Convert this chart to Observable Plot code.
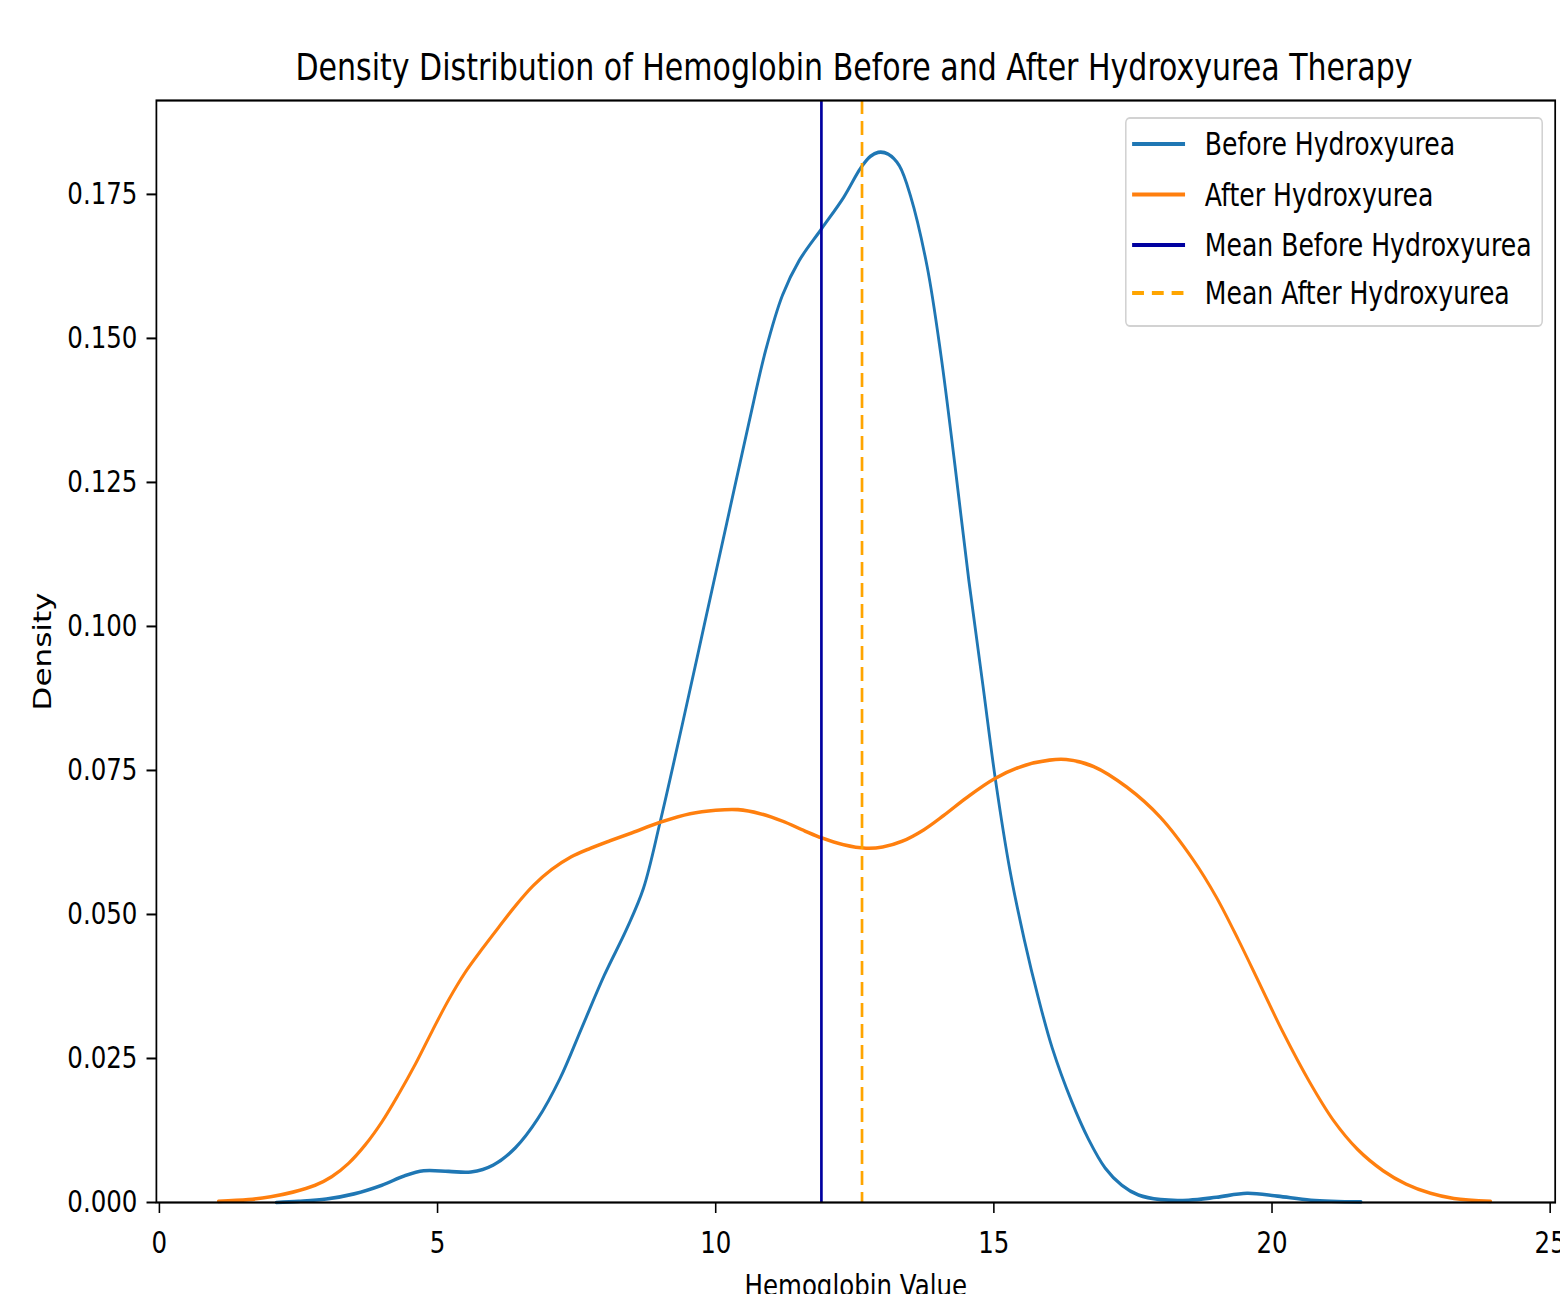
<!DOCTYPE html>
<html>
<head>
<meta charset="utf-8">
<script src="https://cdn.jsdelivr.net/npm/d3@7"></script>
<script src="https://cdn.jsdelivr.net/npm/@observablehq/plot@0.6"></script>
<style>
  html, body { margin: 0; padding: 0; background: #fff; overflow: hidden; width: 1560px; height: 1294px; }
  #wrap { position: relative; width: 1560px; height: 1294px; overflow: hidden; background: #fff; }
  #title { position: absolute; left: 854px; top: 48px; transform: translateX(-50%) scaleX(0.79);
           white-space: nowrap; font-family: "DejaVu Sans"; font-size: 38px; line-height: 38px; color: #000; }
  #chart { position: absolute; left: 0; top: 90px; }
  #legend { position: absolute; left: 1125px; top: 117px; }
</style>
</head>
<body>
<div id="wrap">
  <div id="title">Density Distribution of Hemoglobin Before and After Hydroxyurea Therapy</div>
  <div id="chart"></div>
  <div id="legend"></div>
</div>
<script>
// ---- data ----
const beforeX = [2.1, 2.5, 3.0, 3.5, 4.0, 4.4, 4.75, 5.2, 5.6, 6.0, 6.4, 6.8, 7.2, 7.6, 8.0, 8.4, 8.7, 9.0, 9.4, 9.8, 10.2, 10.6, 10.9, 11.2, 11.5, 11.9, 12.3, 12.6, 12.78, 12.92, 13.1, 13.3, 13.5, 13.8, 14.05, 14.3, 14.55, 14.8, 15.03, 15.29, 15.55, 15.8, 16.05, 16.4, 16.7, 17.0, 17.3, 17.6, 18.0, 18.5, 19.0, 19.55, 20.1, 20.7, 21.6];
const beforeY = [0.0000, 0.0002, 0.0006, 0.0015, 0.0030, 0.0046, 0.0055, 0.0054, 0.0053, 0.0065, 0.0095, 0.0145, 0.0215, 0.0305, 0.0395, 0.0475, 0.0545, 0.0660, 0.0830, 0.1005, 0.1180, 0.1355, 0.1480, 0.1575, 0.1635, 0.1690, 0.1745, 0.1795, 0.1816, 0.1823, 0.1820, 0.1800, 0.1748, 0.1625, 0.1470, 0.1280, 0.1080, 0.0900, 0.0733, 0.0576, 0.0455, 0.0355, 0.0268, 0.0175, 0.0110, 0.0060, 0.0030, 0.0013, 0.0005, 0.0004, 0.0009, 0.0016, 0.0011, 0.0004, 0.0001];

const afterX = [1.06, 1.6, 2.0, 2.4, 2.8, 3.1, 3.4, 3.7, 4.0, 4.3, 4.6, 4.9, 5.2, 5.5, 5.8, 6.1, 6.4, 6.72, 7.05, 7.4, 7.75, 8.1, 8.5, 9.0, 9.54, 10.0, 10.4, 10.8, 11.2, 11.6, 11.9, 12.3, 12.7, 13.0, 13.35, 13.74, 14.1, 14.5, 15.0, 15.5, 16.0, 16.3, 16.79, 17.39, 17.99, 18.59, 19.0, 19.4, 19.8, 20.2, 20.67, 21.1, 21.54, 22.0, 22.41, 22.85, 23.27, 23.93];
const afterY = [0.0002, 0.0005, 0.0010, 0.0018, 0.0030, 0.0045, 0.0068, 0.0100, 0.0140, 0.0188, 0.0240, 0.0297, 0.0352, 0.0400, 0.0440, 0.0478, 0.0515, 0.0550, 0.0578, 0.0600, 0.0615, 0.0628, 0.0642, 0.0660, 0.0675, 0.0681, 0.0682, 0.0675, 0.0662, 0.0645, 0.0633, 0.0621, 0.0615, 0.0617, 0.0627, 0.0647, 0.0672, 0.0702, 0.0735, 0.0757, 0.0768, 0.0769, 0.0757, 0.0721, 0.0669, 0.0594, 0.0530, 0.0455, 0.0375, 0.0295, 0.0210, 0.0143, 0.0092, 0.0055, 0.0032, 0.0016, 0.0007, 0.0002];

const meanBefore = 11.9;
const meanAfter = 12.63;

const xTicks = [0, 5, 10, 15, 20, 25];
const yTicks = [0, 0.025, 0.05, 0.075, 0.1, 0.125, 0.15, 0.175];

const seriesNames = ["Before Hydroxyurea", "After Hydroxyurea", "Mean Before Hydroxyurea", "Mean After Hydroxyurea"];
const seriesColors = ["#1f77b4", "#ff7f0e", "#0000a0", "#ffa500"];
const seriesDash = [null, null, null, "14,7"];

const titleText = "Density Distribution of Hemoglobin Before and After Hydroxyurea Therapy";
const xLabel = "Hemoglobin Value";
const yLabel = "Density";

// ---- build ----
const before = beforeX.map((x, i) => ({x, y: beforeY[i]}));
const after = afterX.map((x, i) => ({x, y: afterY[i]}));

const S = 0.79;                       // horizontal squeeze of the reference
const VW = Math.round(1560 / S);      // virtual width
const VH = 1264;

const chart = Plot.plot({
  width: VW,
  height: VH,
  marginTop: 10,
  marginBottom: 152,
  marginLeft: 197.5,
  marginRight: 6.6,
  style: {fontFamily: "DejaVu Sans", fontSize: "31px", color: "#000", background: "#fff"},
  x: {domain: [-0.054, 25.09]},
  y: {domain: [0, 0.1913]},
  marks: [
    Plot.line(before, {x: "x", y: "y", stroke: seriesColors[0], strokeWidth: 3.6, curve: "catmull-rom"}),
    Plot.line(after, {x: "x", y: "y", stroke: seriesColors[1], strokeWidth: 3.6, curve: "catmull-rom"}),
    Plot.ruleX([meanBefore], {stroke: seriesColors[2], strokeWidth: 3.4}),
    Plot.ruleX([meanAfter], {stroke: seriesColors[3], strokeWidth: 3.4, strokeDasharray: seriesDash[3]}),
    Plot.frame({stroke: "#000", strokeWidth: 2.2}),
    Plot.axisX({ticks: xTicks, tickSize: 11, tickPadding: 17, strokeWidth: 2, label: null, fontSize: 31}),
    Plot.axisY({ticks: yTicks, tickFormat: d3.format(".3f"), tickSize: 12, tickPadding: 12, strokeWidth: 2, label: null, fontSize: 31}),
    Plot.text([yLabel], {frameAnchor: "left", textAnchor: "middle", rotate: -90, dx: -144, fontSize: 31}),
    Plot.text([xLabel], {frameAnchor: "bottom", textAnchor: "middle", lineAnchor: "top", dy: 71, fontSize: 31})
  ]
});
chart.setAttribute("width", 1560);
chart.setAttribute("height", VH);
chart.setAttribute("viewBox", `0 0 ${VW} ${VH}`);
chart.setAttribute("preserveAspectRatio", "none");
chart.style.width = "1560px";
chart.style.height = VH + "px";
chart.style.maxWidth = "none";
document.getElementById("chart").appendChild(chart);

document.getElementById("title").textContent = titleText;

// ---- legend ----
const LW = 418, LH = 210;
const lvw = LW / S;
const leg = d3.create("svg")
  .attr("width", LW).attr("height", LH)
  .attr("viewBox", `0 0 ${lvw} ${LH}`)
  .attr("preserveAspectRatio", "none")
  .style("display", "block")
  .style("overflow", "visible");
leg.append("rect")
  .attr("x", 1).attr("y", 1).attr("width", lvw - 2).attr("height", LH - 2)
  .attr("rx", 5).attr("ry", 5)
  .attr("fill", "rgba(255,255,255,0.8)")
  .attr("stroke", "#d2d2d2").attr("stroke-width", 2);
const rowY = [27, 77.5, 128, 176];
seriesNames.forEach((name, i) => {
  const g = leg.append("g").attr("transform", `translate(0,${rowY[i]})`);
  g.append("line")
    .attr("x1", 9).attr("x2", 76).attr("y1", 0).attr("y2", 0)
    .attr("stroke", seriesColors[i]).attr("stroke-width", 4)
    .attr("stroke-dasharray", seriesDash[i] ? "15,10" : null);
  g.append("text")
    .attr("x", 101).attr("dy", "0.36em")
    .attr("font-family", "DejaVu Sans").attr("font-size", 31.8)
    .attr("fill", "#000")
    .text(name);
});
document.getElementById("legend").appendChild(leg.node());
</script>
</body>
</html>
